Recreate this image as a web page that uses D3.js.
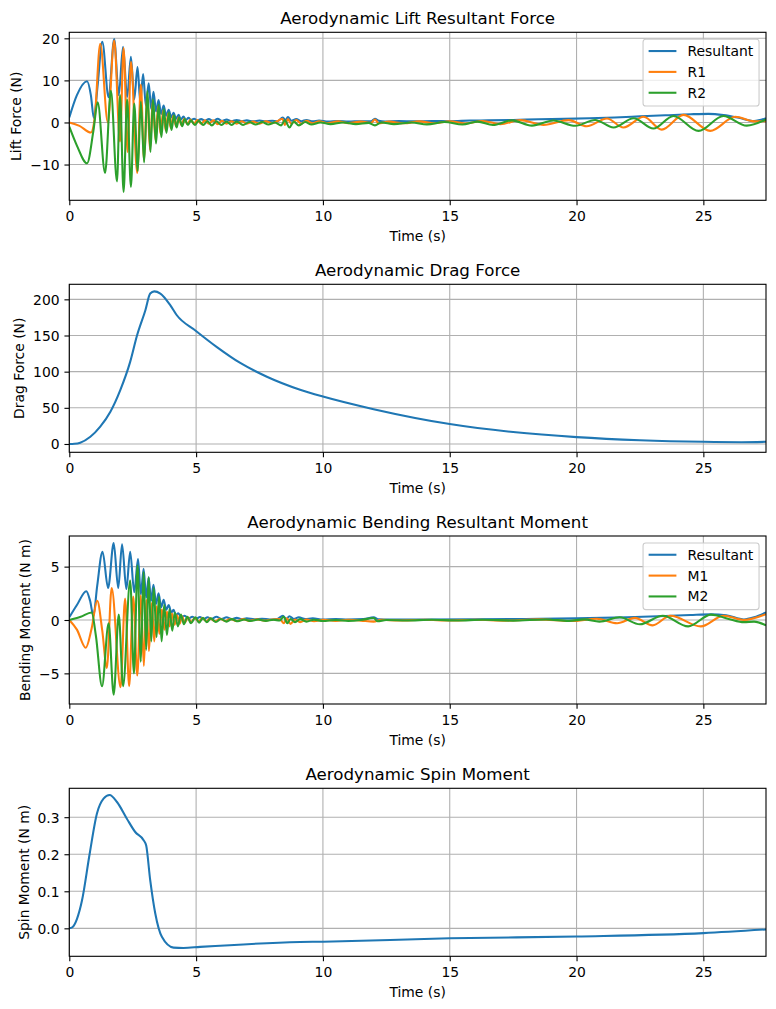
<!DOCTYPE html>
<html>
<head>
<meta charset="utf-8">
<script src="https://cdn.jsdelivr.net/npm/d3@7"></script>
<style>
  body { margin: 0; background: #fff; }
  text { font-family: 'DejaVu Sans', sans-serif; fill: #000; }
</style>
</head>
<body>
<div id="chart"></div>
<script>
// time axis
const timeTicks = [0, 5, 10, 15, 20, 25];
const tEnd = 27.47;

// lift force (N): [t, value]
const liftResultant = [[0,1.2],[0.3,6.5],[0.7,9.8],[0.85,6.5],[0.97,1.0],[1.12,9],[1.3,19.2],[1.55,6],[1.77,19.8],[1.95,6.5],[2.12,18],[2.28,6],[2.43,15.6],[2.56,5.5],[2.69,13.2],[2.8,4.8],[2.91,11.5],[3.02,4],[3.13,9.3],[3.23,3.2],[3.32,7.3],[3.42,2.6],[3.52,5.3],[3.62,2.0],[3.72,4.0],[3.82,1.6],[3.92,3.0],[4.02,1.2],[4.11,2.3],[4.21,0.9],[4.31,1.8],[4.4,0.7],[4.5,1.4],[4.6,0.6],[4.7,1.1],[4.8,0.6],[4.92,0.9],[5.05,0.5],[5.2,0.8],[5.35,0.4],[5.5,0.8],[5.68,0.35],[5.85,0.9],[6.02,0.35],[6.2,0.7],[6.4,0.3],[6.6,0.6],[6.8,0.3],[7.0,0.5],[7.25,0.25],[7.5,0.45],[7.75,0.25],[8.0,0.4],[8.2,0.25],[8.42,1.2],[8.52,0.5],[8.62,1.3],[8.75,0.4],[8.95,0.8],[9.15,0.3],[9.35,0.6],[9.6,0.25],[9.85,0.45],[10.2,0.2],[10.6,0.35],[11.0,0.2],[11.5,0.3],[11.9,0.25],[12.05,0.9],[12.2,0.4],[12.45,0.2],[13.0,0.35],[13.6,0.25],[14.3,0.35],[15.0,0.3],[15.8,0.45],[16.5,0.5],[17.5,0.6],[18.5,0.75],[19.5,0.85],[20.5,1.0],[21.5,1.2],[22.5,1.45],[23.5,1.7],[24.5,1.95],[25.2,2.05],[25.8,1.75],[26.4,1.1],[27.0,0.35],[27.47,1.0]];
const liftR1 = [[0,0],[0.4,-0.8],[0.85,-2.4],[1.0,1],[1.22,18.7],[1.52,0],[1.77,19.5],[2.0,-4.5],[2.14,17.7],[2.3,-7],[2.43,14.4],[2.68,-12],[2.82,9],[2.95,-9],[3.07,7],[3.18,-6.5],[3.29,5.2],[3.4,-4.2],[3.5,3.8],[3.6,-2.8],[3.7,2.8],[3.8,-1.9],[3.9,2.1],[4.0,-1.3],[4.1,1.6],[4.21,-0.9],[4.31,1.2],[4.42,-0.6],[4.53,0.9],[4.65,-0.4],[4.78,0.7],[4.92,-0.3],[5.05,0.6],[5.2,-0.3],[5.35,0.5],[5.5,-0.3],[5.68,0.5],[5.85,-0.4],[6.02,0.4],[6.2,-0.3],[6.4,0.3],[6.6,-0.3],[6.8,0.3],[7.0,-0.3],[7.25,0.2],[7.5,-0.3],[7.75,0.3],[8.0,-0.2],[8.2,0.3],[8.4,0.9],[8.5,-0.6],[8.62,0.8],[8.75,-0.3],[8.95,0.6],[9.15,-0.3],[9.35,0.4],[9.6,-0.2],[9.85,0.3],[10.2,-0.15],[10.6,0.25],[11.0,-0.15],[11.5,0.2],[11.9,-0.1],[12.05,0.7],[12.2,-0.2],[12.6,0.2],[13.2,-0.2],[13.8,0.25],[14.4,-0.2],[15.0,0.3],[15.6,-0.25],[16.3,0.35],[17.0,-0.4],[17.78,0.55],[18.7,-0.6],[19.69,0.55],[20.4,-0.9],[21.2,0.95],[21.85,-1.2],[22.65,1.35],[23.36,-1.7],[24.22,1.8],[25.27,-2.0],[26.26,1.35],[27.0,0.25],[27.47,0.3]];
const liftR2 = [[0,-1.0],[0.3,-5.5],[0.7,-9.7],[0.95,-2],[1.12,4.8],[1.41,-12],[1.64,7.5],[1.88,-14],[2.0,6.5],[2.14,-16.5],[2.28,5.5],[2.43,-15.3],[2.56,4.5],[2.7,-11.5],[2.82,5],[2.95,-9.5],[3.08,7.5],[3.2,-7],[3.3,5.5],[3.42,-5],[3.52,4.2],[3.63,-3.5],[3.73,3.2],[3.83,-2.5],[3.93,2.4],[4.03,-1.8],[4.13,1.7],[4.23,-1.2],[4.33,1.2],[4.45,-0.9],[4.55,0.8],[4.68,-0.6],[4.8,0.5],[4.95,-0.6],[5.1,0.4],[5.28,-0.6],[5.45,0.3],[5.62,-0.7],[5.8,0.3],[6.0,-0.6],[6.2,0.2],[6.4,-0.6],[6.6,0.2],[6.85,-0.6],[7.1,0.1],[7.35,-0.5],[7.6,0.1],[7.85,-0.5],[8.1,0.0],[8.35,-0.7],[8.5,0.5],[8.68,-1.2],[8.85,0.2],[9.05,-0.7],[9.3,0.1],[9.55,-0.5],[9.9,0.0],[10.3,-0.4],[10.8,0.0],[11.3,-0.4],[11.8,-0.1],[12.05,-0.7],[12.3,0.0],[12.8,-0.4],[13.5,0.0],[14.1,-0.45],[14.8,0.1],[15.5,-0.5],[16.1,0.2],[16.7,-0.6],[17.45,0.5],[18.24,-0.75],[19.09,0.45],[19.95,-0.8],[20.73,0.6],[21.46,-1.2],[22.25,1.0],[23.03,-1.45],[23.82,1.55],[24.81,-2.0],[25.79,1.55],[26.71,-0.75],[27.47,0.7]];

// drag force (N)
const dragForce = [[0,0],[0.2,0.3],[0.43,1.8],[0.83,10],[1.22,24],[1.62,44.6],[2.01,74.5],[2.4,113.5],[2.67,150],[3.0,185],[3.19,208],[3.35,211],[3.59,208],[3.98,192],[4.24,178],[4.97,157],[5.82,134],[6.74,112],[7.79,93],[9.1,75],[10,65.5],[12,48],[15,27.5],[17.5,16.5],[20,9.5],[22.5,5.2],[25,3],[26.5,2.5],[27.47,3]];

// bending moment (N m)
const momentResultant = [[0,0.25],[0.3,1.4],[0.67,2.7],[0.82,1.8],[0.95,0.4],[1.1,3.2],[1.31,6.4],[1.53,3.0],[1.75,7.2],[1.93,3.0],[2.08,7.1],[2.25,2.9],[2.4,6.4],[2.56,2.6],[2.71,5.7],[2.82,2.4],[2.93,4.8],[3.03,2.1],[3.13,4.0],[3.22,1.8],[3.32,3.3],[3.42,1.5],[3.52,2.5],[3.62,1.2],[3.72,1.9],[3.82,0.95],[3.92,1.4],[4.02,0.7],[4.11,0.95],[4.2,0.45],[4.3,0.62],[4.42,0.25],[4.55,0.4],[4.7,0.15],[4.85,0.3],[5.0,0.12],[5.15,0.28],[5.3,0.1],[5.45,0.25],[5.6,0.1],[5.8,0.3],[6.0,0.1],[6.2,0.25],[6.4,0.08],[6.6,0.2],[6.8,0.08],[7.0,0.15],[7.3,0.06],[7.6,0.12],[7.9,0.05],[8.2,0.1],[8.42,0.4],[8.55,0.1],[8.68,0.35],[8.85,0.1],[9.05,0.25],[9.3,0.08],[9.6,0.15],[10.0,0.05],[10.5,0.1],[11.0,0.04],[11.6,0.08],[12.0,0.25],[12.2,0.06],[12.8,0.05],[14,0.05],[16,0.06],[18,0.1],[20,0.15],[22,0.25],[23.5,0.37],[24.5,0.47],[25.3,0.53],[25.9,0.45],[26.6,0.05],[27.0,0.25],[27.47,0.7]];
const momentM1 = [[0,0],[0.3,-0.9],[0.65,-2.6],[0.88,-0.8],[1.1,1.8],[1.3,-1.0],[1.48,-4.5],[1.67,3.0],[2.02,-6.3],[2.2,2.0],[2.36,-6.2],[2.52,2.2],[2.68,-5.2],[2.82,2.3],[2.94,-4.3],[3.04,1.9],[3.14,-2.9],[3.25,1.6],[3.35,-2.0],[3.45,1.3],[3.55,-1.3],[3.65,1.0],[3.75,-0.9],[3.85,0.8],[3.95,-0.6],[4.05,0.6],[4.15,-0.45],[4.25,0.45],[4.35,-0.35],[4.45,0.35],[4.55,-0.25],[4.68,0.25],[4.8,-0.2],[4.95,0.2],[5.1,-0.15],[5.25,0.18],[5.4,-0.12],[5.55,0.15],[5.75,-0.12],[5.95,0.12],[6.15,-0.1],[6.35,0.1],[6.6,-0.1],[6.85,0.08],[7.1,-0.08],[7.4,0.06],[7.7,-0.06],[8.0,0.05],[8.3,0.1],[8.45,-0.3],[8.58,0.15],[8.72,-0.37],[8.9,0.05],[9.1,-0.2],[9.35,0.05],[9.65,-0.12],[10.0,0.02],[10.5,-0.08],[11.0,0.02],[11.5,-0.06],[12.0,-0.15],[12.3,0.02],[13,-0.05],[14,0.02],[15,-0.05],[16,0.03],[17.2,-0.06],[18.5,0.06],[19.8,-0.1],[20.8,0.12],[21.6,-0.3],[22.3,0.2],[23.0,-0.5],[23.7,0.4],[24.9,-0.6],[25.8,0.4],[26.6,0.0],[27.47,0.55]];
const momentM2 = [[0,0],[0.45,0.3],[0.88,0.7],[1.05,-1.5],[1.29,-6.2],[1.55,-0.3],[1.75,-7.0],[1.95,0.5],[2.12,-6.2],[2.4,3.7],[2.55,-5.0],[2.69,5.1],[2.82,-3.9],[2.93,4.5],[3.03,-2.8],[3.13,4.0],[3.23,-2.0],[3.33,3.0],[3.44,-1.6],[3.54,2.2],[3.64,-2.0],[3.74,1.4],[3.85,-1.4],[3.95,1.0],[4.06,-1.0],[4.16,0.7],[4.28,-0.6],[4.4,0.5],[4.52,-0.4],[4.65,0.3],[4.8,-0.3],[4.97,0.25],[5.12,-0.25],[5.27,0.2],[5.42,-0.2],[5.58,0.15],[5.78,-0.18],[5.98,0.1],[6.2,-0.15],[6.4,0.08],[6.65,-0.12],[6.9,0.05],[7.15,-0.1],[7.45,0.04],[7.75,-0.08],[8.05,0.03],[8.3,-0.05],[8.45,0.3],[8.6,-0.3],[8.72,0.1],[8.9,-0.2],[9.1,0.08],[9.35,-0.15],[9.65,0.03],[10.0,-0.1],[10.5,0.0],[11.0,-0.08],[11.5,0.0],[12.0,0.18],[12.15,-0.12],[12.5,0.0],[13.3,-0.05],[14.3,0.02],[15.3,-0.05],[16.3,0.03],[17.5,-0.06],[18.8,0.05],[19.7,-0.08],[20.3,0.06],[20.9,-0.15],[21.7,0.25],[22.5,-0.4],[23.4,0.4],[24.4,-0.6],[25.3,0.5],[26.0,0.1],[26.6,-0.2],[27.0,-0.15],[27.47,-0.5]];

// spin moment (N m)
const spinMoment = [[0,0],[0.12,0.003],[0.3,0.025],[0.5,0.075],[0.8,0.2],[1.09,0.31],[1.35,0.35],[1.59,0.36],[1.88,0.341],[2.27,0.296],[2.6,0.26],[2.93,0.238],[3.03,0.224],[3.19,0.13],[3.39,0.04],[3.65,-0.023],[4.11,-0.052],[4.5,-0.053],[5.16,-0.05],[9.1,-0.037],[10,-0.036],[15,-0.027],[20,-0.022],[25,-0.013],[27.47,-0.003]];

const liftTicks = [-10, 0, 10, 20];
const dragTicks = [0, 50, 100, 150, 200];
const momentTicks = [-5, 0, 5];
const spinTicks = [0.0, 0.1, 0.2, 0.3];

const width = 776;
const height = 1009;
const left = 69.3;
const right = 766;
const panelHeight = 168;
const colors = ['#1f77b4', '#ff7f0e', '#2ca02c'];
const fontSize = 13.9;

const svg = d3.select('#chart').append('svg')
  .attr('width', width)
  .attr('height', height)
  .style('background', '#fff');

const x = d3.scaleLinear().domain([0, tEnd]).range([left, right]);

function drawPanel(p, idx) {
  const top = p.top;
  const bottom = top + panelHeight;
  const y = d3.scaleLinear().domain(p.yDomain).range([bottom, top]);
  const g = svg.append('g');

  g.append('clipPath').attr('id', 'clip' + idx)
    .append('rect')
    .attr('x', left).attr('y', top)
    .attr('width', right - left).attr('height', panelHeight);

  // grid
  g.selectAll('.vgrid').data(timeTicks).enter().append('line')
    .attr('x1', d => x(d)).attr('x2', d => x(d))
    .attr('y1', top).attr('y2', bottom)
    .attr('stroke', '#b0b0b0').attr('stroke-width', 1.1);
  g.selectAll('.hgrid').data(p.yTicks).enter().append('line')
    .attr('x1', left).attr('x2', right)
    .attr('y1', d => y(d)).attr('y2', d => y(d))
    .attr('stroke', '#b0b0b0').attr('stroke-width', 1.1);

  // series
  const path = d3.line()
    .x(d => x(d[0]))
    .y(d => y(d[1]))
    .curve(d3.curveMonotoneX);

  g.selectAll('.series').data(p.series).enter().append('path')
    .attr('d', d => path(d.values))
    .attr('fill', 'none')
    .attr('stroke', d => d.color)
    .attr('stroke-width', 2.08)
    .attr('stroke-linejoin', 'round')
    .attr('clip-path', 'url(#clip' + idx + ')');

  // frame
  g.append('rect')
    .attr('x', left).attr('y', top)
    .attr('width', right - left).attr('height', panelHeight)
    .attr('fill', 'none').attr('stroke', '#000').attr('stroke-width', 1.1);

  // axes
  const xAxis = g.append('g')
    .attr('transform', `translate(0,${bottom})`)
    .call(d3.axisBottom(x).tickValues(timeTicks).tickFormat(d3.format('d')).tickSize(4.86).tickPadding(6.3));
  const yAxis = g.append('g')
    .attr('transform', `translate(${left},0)`)
    .call(d3.axisLeft(y).tickValues(p.yTicks).tickFormat(p.format).tickSize(4.86).tickPadding(4.86));

  [xAxis, yAxis].forEach(a => {
    a.select('.domain').remove();
    a.selectAll('line').attr('stroke', '#000').attr('stroke-width', 1.1);
    a.selectAll('text')
      .style('font-family', "'DejaVu Sans', sans-serif")
      .style('font-size', fontSize + 'px')
      .attr('fill', '#000');
    a.attr('font-size', null).attr('font-family', null);
  });
  yAxis.selectAll('text').attr('dy', '0.36em');

  // title
  g.append('text')
    .attr('x', (left + right) / 2).attr('y', top - 8.3)
    .attr('text-anchor', 'middle')
    .style('font-size', '16.67px')
    .text(p.title);

  // x label
  g.append('text')
    .attr('x', (left + right) / 2).attr('y', bottom + 41)
    .attr('text-anchor', 'middle')
    .style('font-size', fontSize + 'px')
    .text('Time (s)');

  // y label, placed left of the widest tick label
  let minX = left;
  yAxis.selectAll('text').each(function () {
    const b = this.getBBox();
    const m = this.getCTM();
    minX = Math.min(minX, m.e + b.x);
  });
  const lx = minX - 5.56 - 3.3;
  const ly = (top + bottom) / 2;
  g.append('text')
    .attr('transform', `translate(${lx},${ly}) rotate(-90)`)
    .attr('text-anchor', 'middle')
    .style('font-size', fontSize + 'px')
    .text(p.yLabel);

  if (p.legend) buildLegend(g, p.series, top);
}

function buildLegend(g, series, top) {
  const boxRight = right - 6.95;
  const boxTop = top + 6.95;
  const boxW = 116;
  const rowH = 20.85;
  const boxH = 11.1 + series.length * fontSize + (series.length - 1) * 6.95;
  const boxLeft = boxRight - boxW;

  const lg = g.append('g');
  lg.append('rect')
    .attr('x', boxLeft).attr('y', boxTop)
    .attr('width', boxW).attr('height', boxH)
    .attr('rx', 2.8).attr('ry', 2.8)
    .attr('fill', '#fff').attr('fill-opacity', 0.8)
    .attr('stroke', '#cccccc').attr('stroke-width', 1.1);

  const rows = lg.selectAll('.row').data(series).enter().append('g')
    .attr('transform', (d, i) => `translate(${boxLeft + 5.56},${boxTop + 11.8 + i * rowH})`);
  rows.append('line')
    .attr('x1', 0).attr('x2', 27.8)
    .attr('stroke', d => d.color).attr('stroke-width', 2.08);
  rows.append('text')
    .attr('x', 27.8 + 11.1).attr('y', 5)
    .style('font-size', fontSize + 'px')
    .text(d => d.label);
}

const panels = [
  {
    top: 32.3,
    yDomain: [-18.5, 21.43],
    yTicks: liftTicks,
    format: d3.format('d'),
    title: 'Aerodynamic Lift Resultant Force',
    yLabel: 'Lift Force (N)',
    legend: true,
    series: [
      { label: 'Resultant', color: colors[0], values: liftResultant },
      { label: 'R1', color: colors[1], values: liftR1 },
      { label: 'R2', color: colors[2], values: liftR2 },
    ],
  },
  {
    top: 284.3,
    yDomain: [-11.5, 220.8],
    yTicks: dragTicks,
    format: d3.format('d'),
    title: 'Aerodynamic Drag Force',
    yLabel: 'Drag Force (N)',
    legend: false,
    series: [{ label: 'Drag', color: colors[0], values: dragForce }],
  },
  {
    top: 536,
    yDomain: [-7.87, 7.87],
    yTicks: momentTicks,
    format: d3.format('d'),
    title: 'Aerodynamic Bending Resultant Moment',
    yLabel: 'Bending Moment (N m)',
    legend: true,
    series: [
      { label: 'Resultant', color: colors[0], values: momentResultant },
      { label: 'M1', color: colors[1], values: momentM1 },
      { label: 'M2', color: colors[2], values: momentM2 },
    ],
  },
  {
    top: 788.3,
    yDomain: [-0.0755, 0.378],
    yTicks: spinTicks,
    format: d3.format('.1f'),
    title: 'Aerodynamic Spin Moment',
    yLabel: 'Spin Moment (N m)',
    legend: false,
    series: [{ label: 'Spin', color: colors[0], values: spinMoment }],
  },
];

panels.forEach(drawPanel);
</script>
</body>
</html>
